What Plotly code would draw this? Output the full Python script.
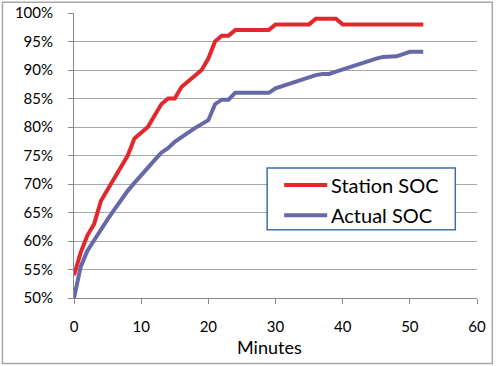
import plotly.graph_objects as go

minutes = list(range(0, 53))
station_soc = [54, 58, 61, 63, 67, 69, 71, 73, 75, 78,
               79, 80, 82, 84, 85, 85, 87, 88, 89, 90,
               92, 95, 96, 96, 97, 97, 97, 97, 97, 97,
               98, 98, 98, 98, 98, 98, 99, 99, 99, 99,
               98, 98, 98, 98, 98, 98, 98, 98, 98, 98,
               98, 98, 98]
actual_soc = [50, 55.5, 58.3, 60.2, 62.2, 63.8, 65.5, 67.3, 68.8, 70.2,
              71.6, 73.0, 74.2, 75.5, 76.3, 77.4, 78.3, 79.0, 79.8, 80.5,
              81.2, 84.0, 84.8, 84.8, 86.0, 86.0, 86.0, 86.0, 86.0, 86.0,
              86.8, 87.2, 87.6, 88.0, 88.4, 88.8, 89.1, 89.3, 89.3, 89.7,
              90.1, 90.5, 90.9, 91.3, 91.6, 92.0, 92.3, 92.4, 92.4, 92.8,
              93.2, 93.2, 93.2]
y_ticks = [50, 55, 60, 65, 70, 75, 80, 85, 90, 95, 100]
y_tick_labels = ["50%", "55%", "60%", "65%", "70%", "75%", "80%", "85%", "90%", "95%", "100%"]
x_ticks = [0, 10, 20, 30, 40, 50, 60]
series_names = ["Station SOC", "Actual SOC"]
series_colors = ["#E2282F", "#6668A8"]

FONT = "Lato"
W, H = 499, 366
L, R, T, B = 74, 22.3, 13.3, 68.3
pw, ph = W - L - R, H - T - B

def px_x(p):
    return (p - L) / pw

def px_y(p):
    return (H - B - p) / ph

fig = go.Figure()
for name, ys, col in zip(series_names, [station_soc, actual_soc], series_colors):
    fig.add_trace(go.Scatter(x=minutes, y=ys, mode="lines", name=name,
                             line=dict(color=col, width=4), showlegend=False,
                             hoverinfo="skip"))

shapes = [dict(type="rect", xref="paper", yref="paper",
               x0=px_x(2.5), x1=px_x(492), y0=px_y(363), y1=px_y(2.5),
               line=dict(color="#A8A8A8", width=1.5), layer="below"),
          dict(type="rect", xref="paper", yref="paper",
               x0=px_x(267), x1=px_x(455), y0=px_y(229.5), y1=px_y(168),
               line=dict(color="#3F6EA8", width=1.5), fillcolor="white", layer="above")]
annotations = [dict(text="Minutes", xref="paper", yref="paper",
                    x=px_x(269), y=px_y(347), xanchor="center", yanchor="middle",
                    showarrow=False, font=dict(family=FONT, size=18, color="black"))]
for i, (name, col) in enumerate(zip(series_names, series_colors)):
    cy = 185 + 30 * i
    shapes.append(dict(type="line", xref="paper", yref="paper",
                       x0=px_x(284), x1=px_x(327), y0=px_y(cy), y1=px_y(cy),
                       line=dict(color=col, width=4), layer="above"))
    annotations.append(dict(text=name, xref="paper", yref="paper",
                            x=px_x(329), y=px_y(cy), xanchor="left", yanchor="middle",
                            showarrow=False, font=dict(family=FONT, size=20, color="black")))

fig.update_layout(
    width=W, height=H,
    margin=dict(l=L, r=R, t=T, b=B, pad=0, autoexpand=False),
    paper_bgcolor="white", plot_bgcolor="white",
    font=dict(family=FONT, color="black", size=15),
    showlegend=False,
    xaxis=dict(range=[0, 60], tickvals=x_ticks, showgrid=False, zeroline=False,
               showline=True, linecolor="#888888", linewidth=1,
               ticks="outside", ticklen=5, tickcolor="#888888", automargin=False,
               ticklabelstandoff=10, tickfont=dict(size=15)),
    yaxis=dict(range=[50, 100], tickvals=y_ticks, ticktext=y_tick_labels,
               showgrid=True, gridcolor="#A8A8A8", gridwidth=1, zeroline=False,
               showline=True, linecolor="#888888", linewidth=1,
               ticks="outside", ticklen=5, tickcolor="#888888", automargin=False,
               ticklabelstandoff=12, tickfont=dict(size=15)),
    annotations=annotations,
    shapes=shapes,
)

fig.write_html("out.html", config={"displayModeBar": False},
               post_script="document.body.style.margin='0';document.body.style.overflow='hidden';")
